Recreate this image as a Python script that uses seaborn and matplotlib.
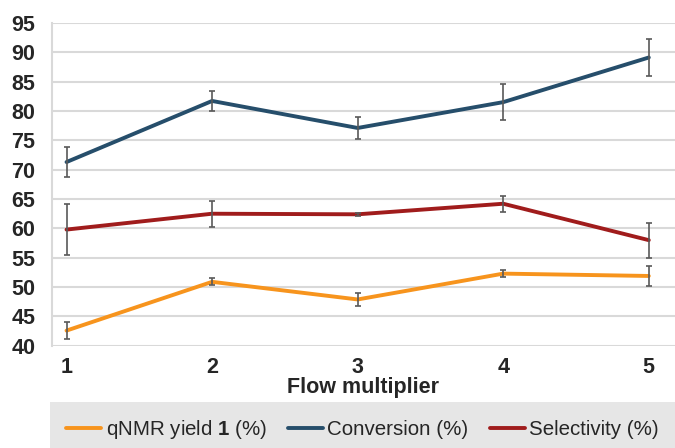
import numpy as np
import pandas as pd
import seaborn as sns
import matplotlib.pyplot as plt

# data
flow = [1, 2, 3, 4, 5]
yield_pct = [42.6, 50.9, 47.9, 52.3, 51.9]
yield_err = [1.5, 0.6, 1.1, 0.6, 1.7]
conversion = [71.3, 81.7, 77.1, 81.5, 89.1]
conversion_err = [2.6, 1.7, 1.9, 3.1, 3.2]
selectivity = [59.8, 62.5, 62.4, 64.2, 58.0]
selectivity_err = [4.4, 2.2, 0.3, 1.4, 3.0]

labels = ["qNMR yield $\\mathbf{1}$ (%)", "Conversion (%)", "Selectivity (%)"]
colors = ["#F7941D", "#264E6B", "#A01C1C"]

df = pd.DataFrame({
    "Flow multiplier": flow * 3,
    "value": yield_pct + conversion + selectivity,
    "err": yield_err + conversion_err + selectivity_err,
    "series": [labels[0]] * 5 + [labels[1]] * 5 + [labels[2]] * 5,
})

sns.set_style("white")
plt.rcParams["font.family"] = ["Liberation Sans", "DejaVu Sans"]
plt.rcParams["mathtext.fontset"] = "custom"
plt.rcParams["mathtext.rm"] = "Liberation Sans"
plt.rcParams["mathtext.bf"] = "Liberation Sans:bold"

fig = plt.figure(figsize=(6.75, 4.48), dpi=100)
ax = fig.add_axes([0.077, 0.228, 0.923, 0.721])

sns.lineplot(data=df, x="Flow multiplier", y="value", hue="series",
             palette=colors, linewidth=2.8, ax=ax, legend=False, zorder=3)

for lab in labels:
    d = df[df["series"] == lab]
    ax.errorbar(d["Flow multiplier"], d["value"], yerr=d["err"], fmt="none",
                ecolor="#595959", elinewidth=1.2, capsize=2.2, capthick=1.2, zorder=4)

ax.set_ylim(40, 95)
ax.set_yticks(np.arange(40, 96, 5))
ax.set_xlim(0.9, 5.18)
ax.set_xticks(flow)
ax.tick_params(axis="y", length=0, labelsize=15.5, pad=12)
ax.tick_params(axis="x", length=0, labelsize=15.5, pad=8)
for t in ax.get_xticklabels() + ax.get_yticklabels():
    t.set_fontweight("bold")
ax.grid(axis="y", color="#D9D9D9", linewidth=1.5)
ax.set_axisbelow(True)
for s in ["top", "right", "bottom"]:
    ax.spines[s].set_visible(False)
ax.spines["left"].set_color("#D9D9D9")
ax.spines["left"].set_linewidth(1.5)
ax.set_xlabel("Flow multiplier", fontsize=15.5, fontweight="bold", labelpad=-1)
ax.set_ylabel("")

handles = [plt.Line2D([], [], color=c, linewidth=2.8) for c in colors]
leg = fig.legend(handles, labels, loc="upper left", ncol=3, mode="expand",
                 bbox_to_anchor=(50 / 675, 1 - 402 / 448, 625 / 675, 0),
                 frameon=True, fancybox=False, facecolor="#E6E6E6", edgecolor="none",
                 fontsize=14.8, handlelength=1.7, handletextpad=0.2, borderaxespad=0,
                 columnspacing=0.8, borderpad=0.8)
leg.get_frame().set_alpha(1)

fig.savefig("out.png", dpi=100)
